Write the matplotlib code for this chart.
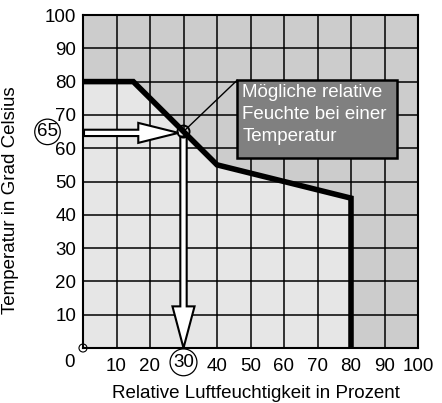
import matplotlib
matplotlib.use("Agg")
import matplotlib.pyplot as plt
from matplotlib.patches import Polygon, FancyArrow, Circle, Rectangle

plt.rcParams['font.family'] = ['Liberation Sans', 'DejaVu Sans']

# Data
boundary_x = [0, 15, 40, 80, 80]
boundary_y = [80, 80, 55, 45, 0]
x_ticks = [10, 20, 30, 40, 50, 60, 70, 80, 90, 100]
y_ticks = [10, 20, 30, 40, 50, 60, 70, 80, 90, 100]
point_x, point_y = 30, 65
box_lines = ["Mögliche relative", "Feuchte bei einer", "Temperatur"]

FS = 13.5

fig = plt.figure(figsize=(4.42, 4.03), dpi=100)
ax = fig.add_axes([83/442, 55/403, 335/442, 333/403])
ax.set_xlim(0, 100)
ax.set_ylim(0, 100)
ax.set_facecolor('#cccccc')

poly = Polygon(list(zip([0] + boundary_x, [0] + boundary_y)), closed=True,
               facecolor='#e6e6e6', edgecolor='none', zorder=1)
ax.add_patch(poly)

for v in range(10, 100, 10):
    ax.axvline(v, color='black', lw=1.1, zorder=2)
    ax.axhline(v, color='black', lw=1.1, zorder=2)

ax.plot(boundary_x, boundary_y, color='black', lw=4.0, zorder=3,
        solid_joinstyle='miter', solid_capstyle='butt')

for s in ax.spines.values():
    s.set_linewidth(1.5)
    s.set_zorder(6)

ax.set_xticks(x_ticks)
ax.set_yticks(y_ticks)
xl = [str(t) for t in x_ticks]
xl[2] = ""
ax.set_xticklabels(xl, fontsize=FS)
ax.set_yticklabels([str(t) for t in y_ticks], fontsize=FS)
ax.tick_params(length=0, pad=5)
ax.tick_params(axis='x', pad=7)

ax.set_xlabel("Relative Luftfeuchtigkeit in Prozent", fontsize=FS)
ax.set_ylabel("Temperatur in Grad Celsius", fontsize=FS)
ax.xaxis.set_label_coords(0.516, -0.112)
ax.yaxis.set_label_coords(-0.19, 0.445)

# zero label
ax.text(-3.9, -4.5, "0", fontsize=FS, ha='center', va='center', clip_on=False)
ax.add_patch(Circle((0, 0), 1.2, fill=False, edgecolor='black', lw=0.8,
                    clip_on=False, zorder=7))

# arrows
ax.add_patch(FancyArrow(0.3, point_y - 0.4, point_x - 1.8, 0, width=1.9, head_width=6.0,
                        head_length=12, length_includes_head=True,
                        facecolor='white', edgecolor='black', lw=1.5, zorder=5))
ax.add_patch(FancyArrow(point_x, point_y - 1.5, 0, -(point_y - 1.5), width=1.9,
                        head_width=6.6, head_length=12.5, length_includes_head=True,
                        facecolor='white', edgecolor='black', lw=1.5, zorder=5))

ax.add_patch(Circle((point_x, point_y), 1.8, fill=False, edgecolor='black', lw=1.4, zorder=6))
ax.plot([point_x, 46], [point_y, 80.4], color='black', lw=1.0, zorder=4)

# box
ax.add_patch(Rectangle((46, 57), 47.7, 23.4, facecolor='#808080', edgecolor='black',
                       lw=1.8, zorder=7))
ax.text(47.6, 79.3, "\n".join(box_lines), color='white', fontsize=FS, va='top',
        ha='left', linespacing=1.4, zorder=8)

# circled labels
ax.text(-10.6, 64.9, "65", fontsize=FS, ha='center', va='center', clip_on=False,
        bbox=dict(boxstyle='circle,pad=0.12', facecolor='white', edgecolor='black', lw=0.9))
ax.text(30, -4.3, "30", fontsize=FS, ha='center', va='center', clip_on=False,
        bbox=dict(boxstyle='circle,pad=0.16', facecolor='white', edgecolor='black', lw=0.9))

fig.savefig("out.png", dpi=100)
